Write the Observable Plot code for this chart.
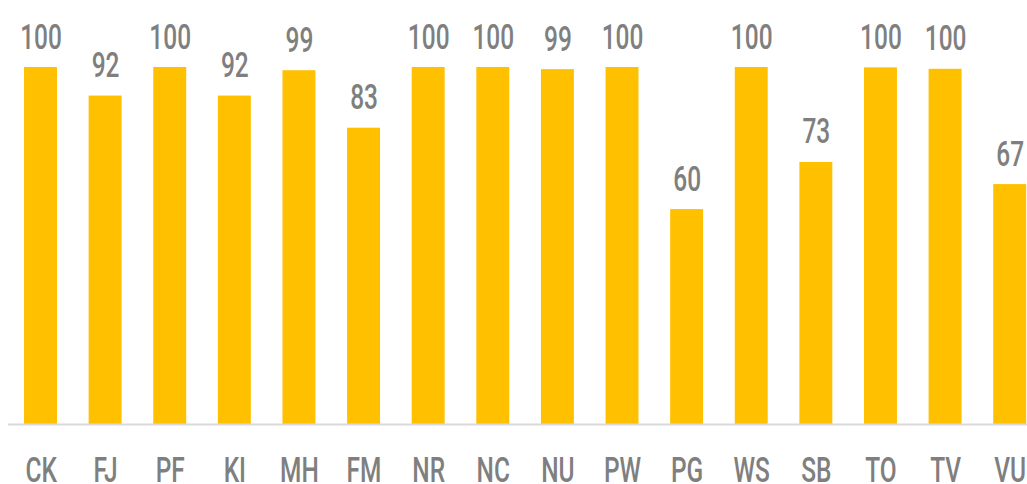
<!DOCTYPE html>
<html>
<head>
<meta charset="utf-8">
<script src="https://cdn.jsdelivr.net/npm/d3@7"></script>
<script src="https://cdn.jsdelivr.net/npm/@observablehq/plot@0.6"></script>
<style>
  html, body { margin: 0; padding: 0; background: #fff; overflow: hidden; }
  #chart svg { display: block; }
</style>
</head>
<body>
<div id="chart"></div>
<script>
const categories = ["CK","FJ","PF","KI","MH","FM","NR","NC","NU","PW","PG","WS","SB","TO","TV","VU"];
const values = [100, 92, 100, 92, 99.1, 83, 100, 100, 99.4, 100, 60.2, 100, 73.4, 99.9, 99.5, 67.2];

const data = categories.map((c, i) => ({cat: c, v: values[i]}));
const font = "Roboto, 'DejaVu Sans', sans-serif";

const chart = Plot.plot({
  width: 1027,
  height: 484,
  marginLeft: 8,
  marginRight: 0,
  marginTop: 67,
  marginBottom: 60,
  style: {fontFamily: font, background: "#fff", overflow: "hidden"},
  x: {domain: categories, range: [8.2, 1042], round: false, paddingInner: 0.49, paddingOuter: 0.245, label: null},
  y: {domain: [0, 100], axis: null},
  marks: [
    Plot.barY(data, {x: "cat", y: "v", fill: "#FFC000"}),
    Plot.ruleY([0], {stroke: "#d9d9d9", strokeWidth: 2}),
    Plot.text(data, {x: "cat", y: "v", text: d => String(Math.round(d.v)), lineAnchor: "bottom", dy: -19, fontSize: 35, fontWeight: 500, fill: "#7f7f7f", fontFamily: font}),
    Plot.axisX({tickSize: 0, tickPadding: 33, fontSize: 35, fontWeight: 500, color: "#7f7f7f", fontFamily: font, label: null})
  ]
});
document.getElementById("chart").appendChild(chart);

// horizontally condense all labels to imitate the narrow typeface of the original
const sx = 0.7;
chart.querySelectorAll("text").forEach(t => {
  const b = t.getBBox();
  const cx = b.x + b.width / 2;
  const prev = t.getAttribute("transform") || "";
  t.setAttribute("transform", `${prev} translate(${cx},0) scale(${sx},1) translate(${-cx},0)`);
});
</script>
</body>
</html>
